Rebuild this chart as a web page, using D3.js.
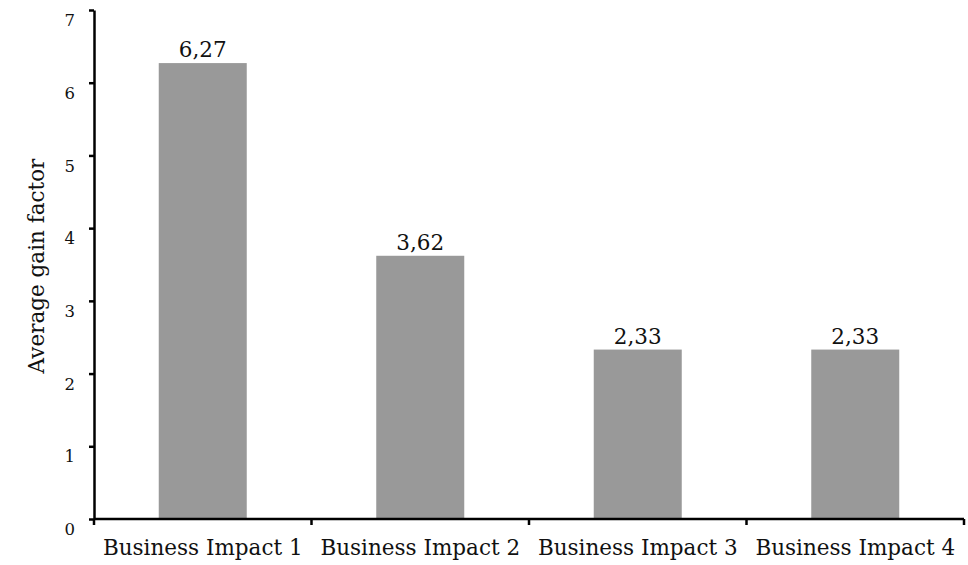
<!DOCTYPE html>
<html>
<head>
<meta charset="utf-8">
<script src="https://cdn.jsdelivr.net/npm/d3@7"></script>
<style>
  html, body { margin: 0; padding: 0; background: #fff; }
  svg { display: block; }
  text { font-family: "DejaVu Serif", serif; fill: #111; }
</style>
</head>
<body>
<svg id="chart" width="968" height="565"></svg>
<script>
// Chart data
const categories = ["Business Impact 1", "Business Impact 2", "Business Impact 3", "Business Impact 4"];
const values = [6.27, 3.62, 2.33, 2.33];
const valueLabels = ["6,27", "3,62", "2,33", "2,33"];
const yTicks = [0, 1, 2, 3, 4, 5, 6, 7];
const yTitle = "Average gain factor";

const svg = d3.select("#chart");
const margin = { left: 94, right: 4, top: 10, bottom: 46 };
const width = 968, height = 565;
const barWidth = 88;

const xBand = d3.scaleBand()
  .domain(categories)
  .range([margin.left, width - margin.right])
  .padding(0);

const y = d3.scaleLinear()
  .domain([0, 7])
  .range([height - margin.bottom, margin.top]);

// Bars
svg.append("g")
  .selectAll("rect")
  .data(values)
  .join("rect")
  .attr("x", (d, i) => xBand(categories[i]) + (xBand.bandwidth() - barWidth) / 2)
  .attr("width", barWidth)
  .attr("y", d => y(d))
  .attr("height", d => y(0) - y(d))
  .attr("fill", "#999999");

// Value labels
svg.append("g")
  .selectAll("text")
  .data(values)
  .join("text")
  .attr("x", (d, i) => xBand(categories[i]) + xBand.bandwidth() / 2)
  .attr("y", d => y(d) - 6)
  .attr("text-anchor", "middle")
  .attr("font-size", 21.5)
  .text((d, i) => valueLabels[i]);

// Y axis
const yAxis = svg.append("g")
  .attr("transform", `translate(${margin.left},0)`)
  .call(d3.axisLeft(y).tickValues(yTicks).tickFormat(d3.format("d")).tickSize(5).tickSizeOuter(0).tickPadding(14));
yAxis.select(".domain").attr("stroke", "#000").attr("stroke-width", 2.5);
yAxis.selectAll(".tick line").attr("stroke", "#000").attr("stroke-width", 2.5);
yAxis.selectAll(".tick text")
  .attr("font-size", 16.5)
  .attr("font-family", "DejaVu Serif, serif")
  .attr("fill", "#111")
  .attr("dy", "0.95em");

// X axis with ticks on band boundaries
const xAxisG = svg.append("g").attr("transform", `translate(0,${y(0)})`);
xAxisG.append("line")
  .attr("x1", margin.left).attr("x2", width - margin.right)
  .attr("stroke", "#000").attr("stroke-width", 2.5);
const bounds = categories.map(c => xBand(c)).concat([width - margin.right]);
xAxisG.selectAll("line.tick")
  .data(bounds)
  .join("line")
  .attr("class", "tick")
  .attr("x1", d => d).attr("x2", d => d)
  .attr("y1", 0).attr("y2", 6)
  .attr("stroke", "#000").attr("stroke-width", 2.5);
xAxisG.selectAll("text")
  .data(categories)
  .join("text")
  .attr("x", d => xBand(d) + xBand.bandwidth() / 2)
  .attr("y", 36)
  .attr("text-anchor", "middle")
  .attr("font-size", 21.5)
  .text(d => d);

// Y axis title
svg.append("text")
  .attr("transform", `translate(44,266) rotate(-90)`)
  .attr("text-anchor", "middle")
  .attr("font-size", 21.5)
  .text(yTitle);
</script>
</body>
</html>
